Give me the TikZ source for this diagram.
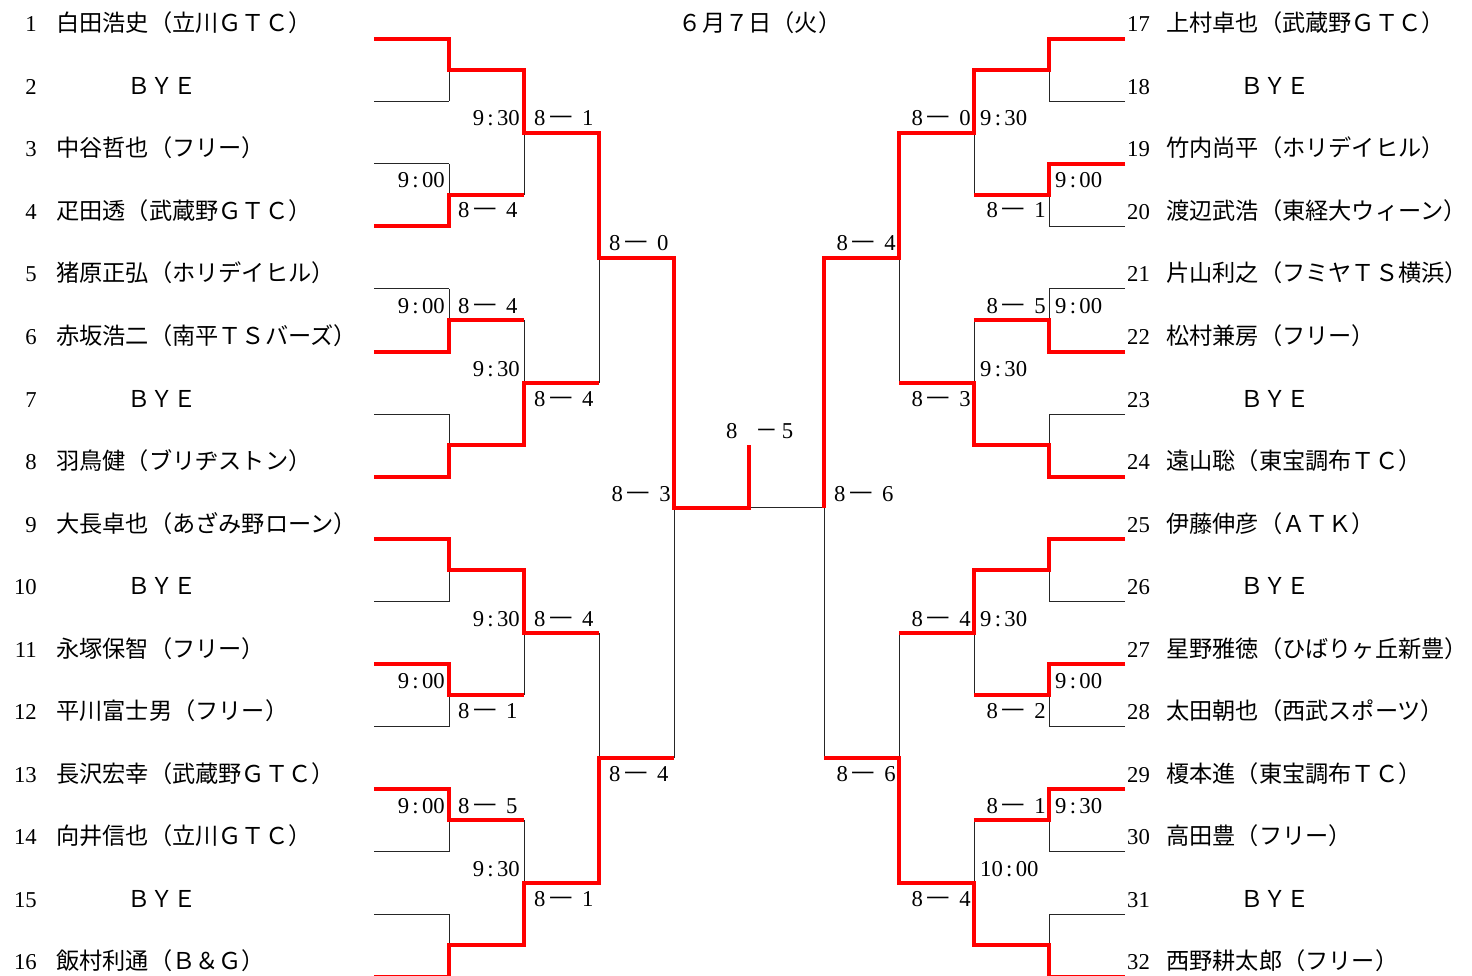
\documentclass[tikz,border=0pt]{standalone}
\usepackage{fontspec}
\usepackage{graphicx}
\setmainfont{Liberation Serif}
\newfontfamily\cjk{Noto Sans CJK JP}
\newcommand\cjkt{\cjk\fontsize{23.2}{27}\selectfont}
\newcommand\scoreAB[2]{#1\hspace{1pt}\scalebox{1.3}[1]{\cjk －}\hspace{6pt}#2}
\newcommand\timeAB[2]{#1\hspace{3.3pt}:\hspace{3.3pt}#2}
\begin{document}
\begin{tikzpicture}[x=1pt,y=-1pt,
  txt/.style={inner sep=0pt, font=\fontsize{22.7}{26}\selectfont},
  bk/.style={line width=1pt, black!85},
  win/.style={line width=4pt, red, line join=miter}]
\useasboundingbox (0,0) rectangle (1472,976);
% ---------- coordinates ----------
\foreach \i in {1,...,16}{
  \pgfmathsetmacro\yy{39+62.5*(\i-1)}
  \pgfmathtruncatemacro\j{\i+16}
  \coordinate (L\i) at (374,\yy);
  \coordinate (J\i) at (449,\yy);
  \coordinate (R\j) at (1125,\yy);
  \coordinate (K\j) at (1049,\yy);
}
\foreach \k in {1,...,8}{
  \pgfmathsetmacro\yy{70.25+125*(\k-1)}
  \coordinate (A\k) at (449,\yy); \coordinate (B\k) at (524,\yy);
  \coordinate (AA\k) at (1049,\yy); \coordinate (BB\k) at (974,\yy);
}
\foreach \k in {1,...,4}{
  \pgfmathsetmacro\yy{132.75+250*(\k-1)}
  \coordinate (C\k) at (524,\yy); \coordinate (D\k) at (599,\yy);
  \coordinate (CC\k) at (974,\yy); \coordinate (DD\k) at (899,\yy);
}
\foreach \k in {1,2}{
  \pgfmathsetmacro\yy{257.75+500*(\k-1)}
  \coordinate (E\k) at (599,\yy); \coordinate (F\k) at (674,\yy);
  \coordinate (EE\k) at (899,\yy); \coordinate (FF\k) at (824,\yy);
}
\coordinate (G) at (674,507.75);
\coordinate (H) at (749,507.75);
\coordinate (GG) at (824,507.75);
\coordinate (T) at (749,445);
% ---------- black bracket ----------
\foreach \i in {1,...,16}{
  \pgfmathtruncatemacro\j{\i+16}
  \draw[bk] (L\i) -- (J\i);
  \draw[bk] (R\j) -- (K\j);
}
\foreach \k in {1,...,8}{
  \pgfmathtruncatemacro\a{2*\k-1}
  \pgfmathtruncatemacro\b{2*\k}
  \pgfmathtruncatemacro\aa{2*\k+15}
  \pgfmathtruncatemacro\bb{2*\k+16}
  \draw[bk] (J\a) -- (J\b);
  \draw[bk] (A\k) -- (B\k);
  \draw[bk] (K\aa) -- (K\bb);
  \draw[bk] (AA\k) -- (BB\k);
}
\foreach \k in {1,...,4}{
  \pgfmathtruncatemacro\a{2*\k-1}
  \pgfmathtruncatemacro\b{2*\k}
  \draw[bk] (B\a) -- (B\b);
  \draw[bk] (C\k) -- (D\k);
  \draw[bk] (BB\a) -- (BB\b);
  \draw[bk] (CC\k) -- (DD\k);
}
\foreach \k in {1,2}{
  \pgfmathtruncatemacro\a{2*\k-1}
  \pgfmathtruncatemacro\b{2*\k}
  \draw[bk] (D\a) -- (D\b);
  \draw[bk] (E\k) -- (F\k);
  \draw[bk] (DD\a) -- (DD\b);
  \draw[bk] (EE\k) -- (FF\k);
}
\draw[bk] (F1) -- (F2);
\draw[bk] (FF1) -- (FF2);
\draw[bk] (G) -- (H) -- (GG);
% ---------- winners (red) ----------
\draw[win] (L1) -- (J1) -- (A1) -- (B1) -- (C1) -- (D1) -- (E1) -- (F1) -- (G) -- (H) -- (T);
\draw[win] (L4) -- (J4) -- (A2) -- (B2);
\draw[win] (L6) -- (J6) -- (A3) -- (B3);
\draw[win] (L8) -- (J8) -- (A4) -- (B4) -- (C2) -- (D2);
\draw[win] (L9) -- (J9) -- (A5) -- (B5) -- (C3) -- (D3);
\draw[win] (L11) -- (J11) -- (A6) -- (B6);
\draw[win] (L13) -- (J13) -- (A7) -- (B7);
\draw[win] (L16) -- (J16) -- (A8) -- (B8) -- (C4) -- (D4) -- (E2) -- (F2);
\draw[win] (R17) -- (K17) -- (AA1) -- (BB1) -- (CC1) -- (DD1) -- (EE1) -- (FF1) -- (GG);
\draw[win] (R19) -- (K19) -- (AA2) -- (BB2);
\draw[win] (R22) -- (K22) -- (AA3) -- (BB3);
\draw[win] (R24) -- (K24) -- (AA4) -- (BB4) -- (CC2) -- (DD2);
\draw[win] (R25) -- (K25) -- (AA5) -- (BB5) -- (CC3) -- (DD3);
\draw[win] (R27) -- (K27) -- (AA6) -- (BB6);
\draw[win] (R29) -- (K29) -- (AA7) -- (BB7);
\draw[win] (R32) -- (K32) -- (AA8) -- (BB8) -- (CC4) -- (DD4) -- (EE2) -- (FF2);
% ---------- title ----------
\node[txt, anchor=base] (title) at (760,32) {\cjkt ６月７日（火）};
% ---------- players ----------
\foreach \i in {1,...,16}{
  \pgfmathsetmacro\yy{32+62.5*(\i-1)}
  \pgfmathtruncatemacro\j{\i+16}
  \node[txt, anchor=base east] (no\i) at (37,\yy) {\i};
  \node[txt, anchor=base west] (no\j) at (1127,\yy) {\j};
}
\foreach \i/\nm in {1/白田浩史（立川ＧＴＣ）,3/中谷哲也（フリー）,4/疋田透（武蔵野ＧＴＣ）,
  5/猪原正弘（ホリデイヒル）,6/赤坂浩二（南平ＴＳバーズ）,8/羽鳥健（ブリヂストン）,
  9/大長卓也（あざみ野ローン）,11/永塚保智（フリー）,12/平川富士男（フリー）,
  13/長沢宏幸（武蔵野ＧＴＣ）,14/向井信也（立川ＧＴＣ）,16/飯村利通（Ｂ＆Ｇ）}{
  \pgfmathsetmacro\yy{32+62.5*(\i-1)}
  \node[txt, anchor=base west] (nm\i) at (56,\yy) {\cjkt\nm};
}
\foreach \i in {2,7,10,15}{
  \pgfmathsetmacro\yy{32+62.5*(\i-1)}
  \node[txt, anchor=base west] (nm\i) at (127,\yy) {\cjkt ＢＹＥ};
}
\foreach \i/\nm in {17/上村卓也（武蔵野ＧＴＣ）,19/竹内尚平（ホリデイヒル）,20/渡辺武浩（東経大ウィーン）,
  21/片山利之（フミヤＴＳ横浜）,22/松村兼房（フリー）,24/遠山聡（東宝調布ＴＣ）,
  25/伊藤伸彦（ＡＴＫ）,27/星野雅徳（ひばりヶ丘新豊）,28/太田朝也（西武スポーツ）,
  29/榎本進（東宝調布ＴＣ）,30/高田豊（フリー）,32/西野耕太郎（フリー）}{
  \pgfmathsetmacro\yy{32+62.5*(\i-17)}
  \node[txt, anchor=base west] (nm\i) at (1166,\yy) {\cjkt\nm};
}
\foreach \i in {18,23,26,31}{
  \pgfmathsetmacro\yy{32+62.5*(\i-17)}
  \node[txt, anchor=base west] (nm\i) at (1240,\yy) {\cjkt ＢＹＥ};
}
% ---------- left labels ----------
\node[txt, anchor=base east] (t1) at (445,188) {\timeAB{9}{00}};
\node[txt, anchor=base west] (s1) at (458,218) {\scoreAB{8}{4}};
\node[txt, anchor=base east] (t2) at (520,126) {\timeAB{9}{30}};
\node[txt, anchor=base west] (s2) at (534,126) {\scoreAB{8}{1}};
\node[txt, anchor=base east] (t3) at (445,313) {\timeAB{9}{00}};
\node[txt, anchor=base west] (s3) at (458,313) {\scoreAB{8}{4}};
\node[txt, anchor=base east] (t4) at (520,376) {\timeAB{9}{30}};
\node[txt, anchor=base west] (s4) at (534,406) {\scoreAB{8}{4}};
\node[txt, anchor=base west] (s5) at (609,251) {\scoreAB{8}{0}};
\node[txt, anchor=base east] (s6) at (671,501) {\scoreAB{8}{3}};
\node[txt, anchor=base east] (t5) at (520,626) {\timeAB{9}{30}};
\node[txt, anchor=base west] (s7) at (534,626) {\scoreAB{8}{4}};
\node[txt, anchor=base east] (t6) at (445,688) {\timeAB{9}{00}};
\node[txt, anchor=base west] (s8) at (458,718) {\scoreAB{8}{1}};
\node[txt, anchor=base east] (t7) at (445,813) {\timeAB{9}{00}};
\node[txt, anchor=base west] (s9) at (458,813) {\scoreAB{8}{5}};
\node[txt, anchor=base east] (t8) at (520,876) {\timeAB{9}{30}};
\node[txt, anchor=base west] (s10) at (534,906) {\scoreAB{8}{1}};
\node[txt, anchor=base west] (s11) at (609,781) {\scoreAB{8}{4}};
% ---------- final ----------
\node[txt, anchor=base west] (fin) at (726,438) {8\hspace{17.5pt}{\cjk －}\hspace{4pt}5};
% ---------- right labels ----------
\node[txt, anchor=base east] (s12) at (971,126) {\scoreAB{8}{0}};
\node[txt, anchor=base west] (t9) at (980,126) {\timeAB{9}{30}};
\node[txt, anchor=base west] (t10) at (1055,188) {\timeAB{9}{00}};
\node[txt, anchor=base east] (s13) at (1046,218) {\scoreAB{8}{1}};
\node[txt, anchor=base east] (s14) at (896,251) {\scoreAB{8}{4}};
\node[txt, anchor=base east] (s15) at (1046,313) {\scoreAB{8}{5}};
\node[txt, anchor=base west] (t11) at (1055,313) {\timeAB{9}{00}};
\node[txt, anchor=base west] (t12) at (980,376) {\timeAB{9}{30}};
\node[txt, anchor=base east] (s16) at (971,406) {\scoreAB{8}{3}};
\node[txt, anchor=base west] (s17) at (834,501) {\scoreAB{8}{6}};
\node[txt, anchor=base east] (s18) at (971,626) {\scoreAB{8}{4}};
\node[txt, anchor=base west] (t13) at (980,626) {\timeAB{9}{30}};
\node[txt, anchor=base west] (t14) at (1055,688) {\timeAB{9}{00}};
\node[txt, anchor=base east] (s19) at (1046,718) {\scoreAB{8}{2}};
\node[txt, anchor=base east] (s20) at (896,781) {\scoreAB{8}{6}};
\node[txt, anchor=base east] (s21) at (1046,813) {\scoreAB{8}{1}};
\node[txt, anchor=base west] (t15) at (1055,813) {\timeAB{9}{30}};
\node[txt, anchor=base west] (t16) at (980,876) {\timeAB{10}{00}};
\node[txt, anchor=base east] (s22) at (971,906) {\scoreAB{8}{4}};
\end{tikzpicture}
\end{document}
